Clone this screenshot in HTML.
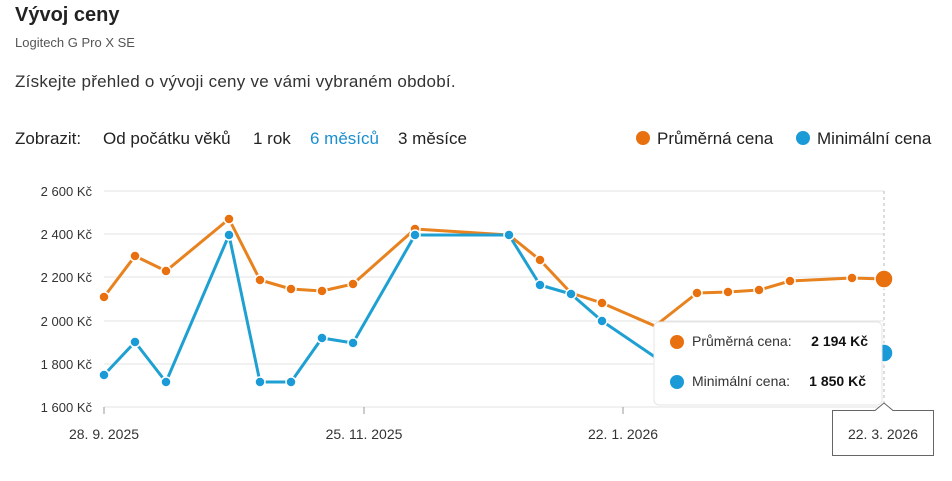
<!DOCTYPE html><html><head><meta charset="utf-8"><style>
body{margin:0;width:952px;height:481px;background:#fff;font-family:"Liberation Sans",sans-serif;color:#222;position:relative;overflow:hidden}
.a{position:absolute;white-space:nowrap}
</style></head><body>
<div class="a" style="left:15px;top:4px;font-size:20px;font-weight:bold;color:#222">Vývoj ceny</div>
<div class="a" style="left:15px;top:35px;font-size:13px;color:#555">Logitech G Pro X SE</div>
<div class="a" style="left:15px;top:72px;font-size:17px;color:#333;letter-spacing:0.25px">Získejte přehled o vývoji ceny ve vámi vybraném období.</div>
<div class="a" style="left:15px;top:129px;font-size:17px;color:#222">Zobrazit:</div>
<div class="a" style="left:103px;top:129px;font-size:17px;color:#222">Od počátku věků</div>
<div class="a" style="left:253px;top:129px;font-size:17px;color:#222">1 rok</div>
<div class="a" style="left:310px;top:129px;font-size:17px;color:#1a8fd0">6 měsíců</div>
<div class="a" style="left:398px;top:129px;font-size:17px;color:#222">3 měsíce</div>
<div class="a" style="left:636px;top:131px;width:14px;height:14px;border-radius:50%;background:#e8700e"></div>
<div class="a" style="left:657px;top:129px;font-size:17px;color:#222">Průměrná cena</div>
<div class="a" style="left:796px;top:131px;width:14px;height:14px;border-radius:50%;background:#1a9bd7"></div>
<div class="a" style="left:817px;top:129px;font-size:17px;color:#222">Minimální cena</div>
<svg class="a" style="left:0;top:0" width="952" height="481" font-family="Liberation Sans" font-size="13" fill="#333">
<g stroke="#e3e3e3" stroke-width="1">
<line x1="104" x2="884" y1="191" y2="191"/><line x1="104" x2="884" y1="234" y2="234"/><line x1="104" x2="884" y1="277" y2="277"/><line x1="104" x2="884" y1="321" y2="321"/><line x1="104" x2="884" y1="364" y2="364"/><line x1="104" x2="884" y1="407" y2="407"/>
</g>
<line x1="884" x2="884" y1="191" y2="407" stroke="#bbb" stroke-dasharray="3,3"/>
<g stroke="#999"><line x1="104" x2="104" y1="407" y2="414"/><line x1="364" x2="364" y1="407" y2="414"/><line x1="623" x2="623" y1="407" y2="414"/></g>
<g text-anchor="end"><text x="92" y="196">2 600 Kč</text><text x="92" y="239">2 400 Kč</text><text x="92" y="282">2 200 Kč</text><text x="92" y="326">2 000 Kč</text><text x="92" y="369">1 800 Kč</text><text x="92" y="412">1 600 Kč</text></g>
<g text-anchor="middle" font-size="14"><text x="104" y="439">28. 9. 2025</text><text x="364" y="439">25. 11. 2025</text><text x="623" y="439">22. 1. 2026</text></g>
<polyline fill="none" stroke="#e8821e" stroke-width="3" stroke-linejoin="round" points="104,297 135,256 166,271 229,219 260,280 291,289 322,291 353,284 415,229 509,235 540,260 571,293 602,303 655,326 697,293 728,292 759,290 790,281 852,278 884,279"/>
<polyline fill="none" stroke="#1fa0d2" stroke-width="3" stroke-linejoin="round" points="104,375 135,342 166,382 229,235 260,382 291,382 322,338 353,343 415,235 509,235 540,285 571,294 602,321 655,357 700,370 884,353"/>
<g fill="#e8700e" stroke="#fff" stroke-width="1.5">
<circle cx="104" cy="297" r="5"/><circle cx="135" cy="256" r="5"/><circle cx="166" cy="271" r="5"/><circle cx="229" cy="219" r="5"/><circle cx="260" cy="280" r="5"/><circle cx="291" cy="289" r="5"/><circle cx="322" cy="291" r="5"/><circle cx="353" cy="284" r="5"/><circle cx="415" cy="229" r="5"/><circle cx="540" cy="260" r="5"/><circle cx="602" cy="303" r="5"/><circle cx="697" cy="293" r="5"/><circle cx="728" cy="292" r="5"/><circle cx="759" cy="290" r="5"/><circle cx="790" cy="281" r="5"/><circle cx="852" cy="278" r="5"/><circle cx="884" cy="279" r="9"/></g>
<g fill="#1a9bd7" stroke="#fff" stroke-width="1.5">
<circle cx="104" cy="375" r="5"/><circle cx="135" cy="342" r="5"/><circle cx="166" cy="382" r="5"/><circle cx="229" cy="235" r="5"/><circle cx="260" cy="382" r="5"/><circle cx="291" cy="382" r="5"/><circle cx="322" cy="338" r="5"/><circle cx="353" cy="343" r="5"/><circle cx="415" cy="235" r="5"/><circle cx="509" cy="235" r="5"/><circle cx="540" cy="285" r="5"/><circle cx="571" cy="294" r="5"/><circle cx="602" cy="321" r="5"/><circle cx="884" cy="353" r="9"/></g>
<rect x="654" y="322" width="228" height="83" rx="5" fill="#fff" stroke="#e6e6e6"/>
<circle cx="677" cy="342" r="7" fill="#e8700e"/><circle cx="677" cy="382" r="7" fill="#1a9bd7"/>
<text x="692" y="346" font-size="14" fill="#333">Průměrná cena:</text><text x="868" y="346" text-anchor="end" font-size="14" font-weight="bold" fill="#111">2 194 Kč</text>
<text x="692" y="386" font-size="14" fill="#333">Minimální cena:</text><text x="866" y="386" text-anchor="end" font-size="14" font-weight="bold" fill="#111">1 850 Kč</text>
<path d="M832.5,410.5 H875 L884,403 L893,410.5 H933.5 V455.5 H832.5 Z" fill="#fff" stroke="#666"/>
<text x="883" y="439" text-anchor="middle" font-size="14">22. 3. 2026</text>
</svg>
</body></html>
